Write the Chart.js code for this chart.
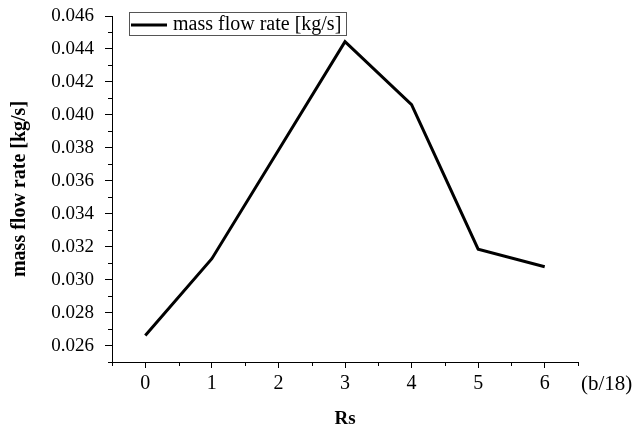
<!DOCTYPE html>
<html>
<head>
<meta charset="utf-8">
<script src="https://cdn.jsdelivr.net/npm/chart.js@4.4.1/dist/chart.umd.min.js"></script>
<style>
  html, body { margin: 0; padding: 0; background: #fff; }
  #wrap { width: 634px; height: 430px; position: relative; }
</style>
</head>
<body>
<div id="wrap"><canvas id="flowChart"></canvas></div>
<script>
// data
const rsValues = [0, 1, 2, 3, 4, 5, 6];
const massFlow = [0.02661, 0.03127, 0.03785, 0.04444, 0.04062, 0.03185, 0.03078];
const xTicks = [0, 1, 2, 3, 4, 5, 6];
const yTicks = [0.026, 0.028, 0.030, 0.032, 0.034, 0.036, 0.038, 0.040, 0.042, 0.044, 0.046];
const seriesLabel = 'mass flow rate [kg/s]';

const FONT = '"Liberation Serif", "Times New Roman", serif';

// minor ticks, unit label and the framed legend
const extrasPlugin = {
    id: 'extras',
    afterDraw(chart) {
        const c = chart.ctx;
        const xs = chart.scales.x;
        const ys = chart.scales.y;
        const area = chart.chartArea;
        c.save();
        c.strokeStyle = '#000';
        c.lineWidth = 1;
        c.beginPath();
        for (let v = -0.5; v <= 6.5; v += 1) {
            const px = Math.round(xs.getPixelForValue(v)) + 0.5;
            c.moveTo(px, area.bottom);
            c.lineTo(px, area.bottom + 4);
        }
        for (let v = 0.025; v <= 0.0455; v += 0.002) {
            const py = Math.round(ys.getPixelForValue(v)) + 0.5;
            c.moveTo(area.left, py);
            c.lineTo(area.left - 4, py);
        }
        c.stroke();

        // unit after the x axis
        c.fillStyle = '#000';
        c.font = '21px ' + FONT;
        c.textBaseline = 'middle';
        c.textAlign = 'left';
        c.fillText('(b/18)', area.right + 3, 384);

        // legend box
        c.strokeStyle = '#555';
        c.strokeRect(129.5, 12.5, 217, 23);
        c.strokeStyle = '#000';
        c.lineWidth = 3;
        c.beginPath();
        c.moveTo(131, 25);
        c.lineTo(167, 25);
        c.stroke();
        c.font = '20px ' + FONT;
        c.fillText(chart.data.datasets[0].label, 173, 25);
        c.restore();
    }
};

new Chart(document.getElementById('flowChart'), {
    type: 'line',
    data: {
        datasets: [{
            label: seriesLabel,
            data: rsValues.map((x, i) => ({ x: x, y: massFlow[i] })),
            borderColor: '#000',
            borderWidth: 3,
            pointRadius: 0,
            tension: 0,
            fill: false
        }]
    },
    options: {
        responsive: true,
        maintainAspectRatio: false,
        animation: false,
        layout: { padding: { top: 16, right: 56, left: 0, bottom: 0 } },
        plugins: {
            legend: { display: false },
            tooltip: { enabled: false }
        },
        scales: {
            x: {
                type: 'linear',
                min: -0.5,
                max: 6.5,
                afterBuildTicks: s => { s.ticks = xTicks.map(v => ({ value: v })); },
                afterFit: s => { s.height = 68; },
                border: { display: true, color: '#000', width: 1 },
                grid: { drawOnChartArea: false, drawTicks: true, tickLength: 6, color: '#000' },
                ticks: {
                    color: '#000',
                    font: { family: FONT, size: 20 },
                    padding: 4,
                    maxRotation: 0,
                    callback: v => String(v)
                },
                title: {
                    display: true,
                    text: 'Rs',
                    color: '#000',
                    font: { family: FONT, size: 19, weight: 'bold' },
                    padding: { top: 8, bottom: 0 }
                }
            },
            y: {
                min: 0.025,
                max: 0.046,
                afterBuildTicks: s => { s.ticks = yTicks.map(v => ({ value: v })); },
                afterFit: s => {
                    s.width = 112;
                    s.paddingTop = 0;
                    s.paddingBottom = 0;
                },
                border: { display: true, color: '#000', width: 1 },
                grid: { drawOnChartArea: false, drawTicks: true, tickLength: 7, color: '#000' },
                ticks: {
                    color: '#000',
                    font: { family: FONT, size: 19 },
                    padding: 11,
                    callback: v => v.toFixed(3)
                },
                title: {
                    display: true,
                    text: seriesLabel,
                    color: '#000',
                    font: { family: FONT, size: 20, weight: 'bold' },
                    padding: { top: 8, bottom: 0 }
                }
            }
        }
    },
    plugins: [extrasPlugin]
});
</script>
</body>
</html>
